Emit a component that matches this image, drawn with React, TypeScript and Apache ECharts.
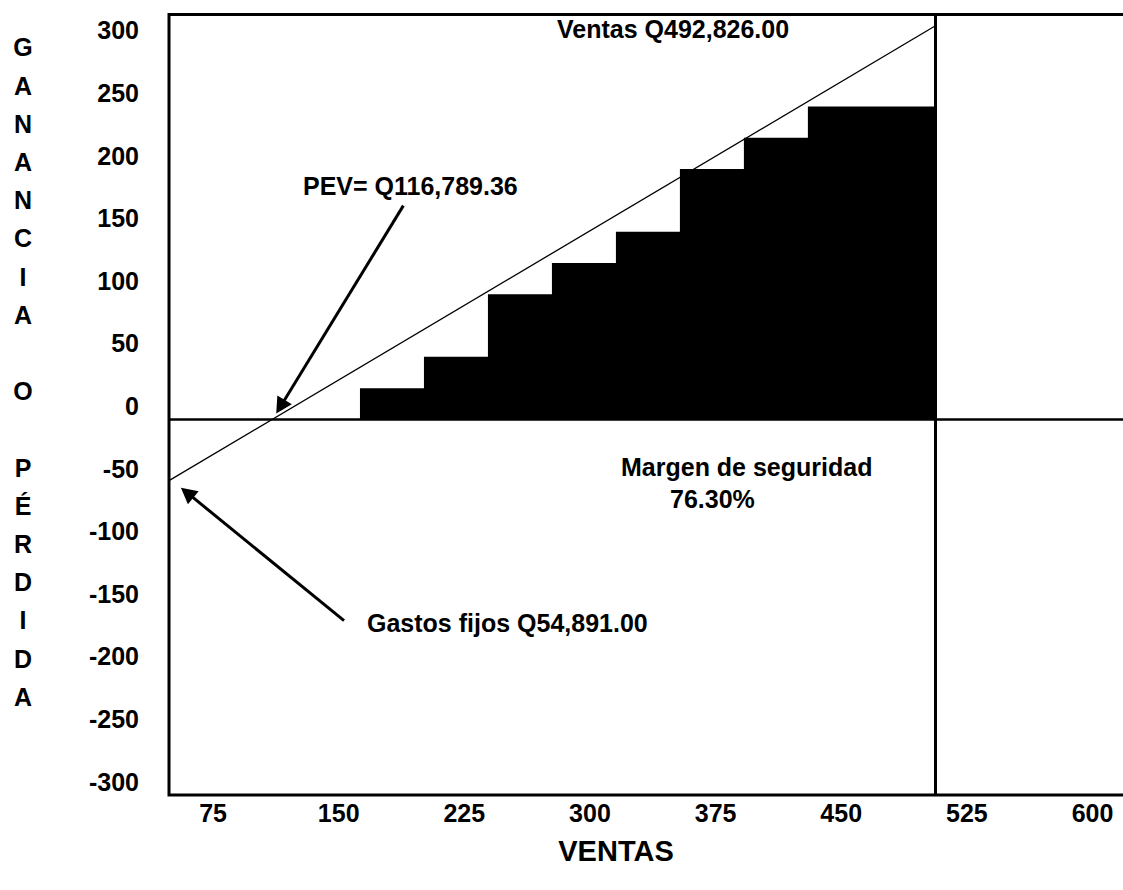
import React, { useEffect, useRef } from "react";
import * as echarts from "echarts";

// ---- data ----
const xTickLabels = [75, 150, 225, 300, 375, 450, 525, 600];
const stepStarts = [162.7, 200.9, 239.1, 277.3, 315.5, 353.7, 391.9, 430.1];
const stepEnd = 506;
const stepValues = [25, 50, 100, 125, 150, 200, 225, 250];
const salesLineX = [48.7, 506];
const salesLineY = [-48.9, 314.3];
const salesMarkX = 506;
const pevArrow = [[188.6, 170.8], [115.2, 10.2]];
const fixedArrow = [[153.2, -160.7], [59.5, -58.5]];
const yTitle = ["G", "A", "N", "A", "N", "C", "I", "A", "", "O", "", "P", "É", "R", "D", "I", "D", "A"];

const FONT = '"Liberation Sans", Arial, sans-serif';

export default function App() {
  const ref = useRef<HTMLDivElement>(null);
  useEffect(() => {
    if (!ref.current) return;
    const chart = echarts.init(ref.current, null, { renderer: "svg" });
    const stepData = stepStarts.map((x, i) => [x, stepValues[i]]);
    stepData.push([stepEnd, stepValues[stepValues.length - 1]]);
    const lineData = salesLineX.map((x, i) => [x, salesLineY[i]]);
    const txt = (text: string, x: number, y: number, size = 25, align = "left") => ({
      type: "text",
      x,
      y,
      silent: true,
      style: {
        text,
        fill: "#000",
        fontSize: size,
        fontWeight: "bold",
        fontFamily: FONT,
        align,
        verticalAlign: "middle",
      },
    });
    chart.setOption({
      animation: false,
      backgroundColor: "#fff",
      grid: {
        left: 169,
        top: 14.5,
        right: 12,
        bottom: 95,
        show: true,
        borderColor: "#000",
        borderWidth: 3,
        backgroundColor: "transparent",
      },
      xAxis: {
        type: "value",
        min: 48.7,
        max: 621.2,
        axisLine: { show: false },
        axisTick: { show: false },
        splitLine: { show: false },
        axisLabel: {
          customValues: xTickLabels,
          margin: 5,
          color: "#000",
          fontSize: 25,
          fontWeight: "bold",
          fontFamily: FONT,
        },
      },
      yAxis: {
        type: "value",
        min: -300,
        max: 323.5,
        interval: 50,
        axisLine: { show: false },
        axisTick: { show: false },
        splitLine: { show: false },
        axisLabel: {
          showMaxLabel: false,
          margin: 30,
          color: "#000",
          fontSize: 25,
          fontWeight: "bold",
          fontFamily: FONT,
          verticalAlign: "bottom",
          lineHeight: 27,
        },
      },
      series: [
        {
          type: "line",
          step: "end",
          data: stepData,
          symbol: "none",
          lineStyle: { width: 0, color: "#000" },
          areaStyle: { color: "#000", opacity: 1 },
          z: 2,
          markLine: {
            silent: true,
            animation: false,
            symbol: ["none", "triangle"],
            symbolSize: [17, 16],
            label: { show: false },
            lineStyle: { color: "#000", width: 3, type: "solid" },
            data: [
              [{ coord: pevArrow[0] }, { coord: pevArrow[1] }],
              [{ coord: fixedArrow[0] }, { coord: fixedArrow[1] }],
            ],
          },
        },
        {
          type: "line",
          data: lineData,
          symbol: "none",
          lineStyle: { width: 1.3, color: "#000" },
          z: 3,
          markLine: {
            silent: true,
            animation: false,
            symbol: ["none", "none"],
            label: { show: false },
            lineStyle: { color: "#000", type: "solid" },
            data: [
              { yAxis: 0, lineStyle: { width: 2.5, color: "#000", type: "solid" } },
              { xAxis: salesMarkX, lineStyle: { width: 3, color: "#000", type: "solid" } },
            ],
          },
        },
      ],
      graphic: [
        {
          type: "text",
          x: 23,
          y: 372,
          silent: true,
          style: {
            text: yTitle.join("\n"),
            fill: "#000",
            fontSize: 25,
            fontWeight: "bold",
            fontFamily: FONT,
            align: "center",
            verticalAlign: "middle",
            lineHeight: 38.2,
          },
        },
        txt("VENTAS", 616, 851, 29, "center"),
        txt("Ventas Q492,826.00", 557, 28.5),
        txt("PEV= Q116,789.36", 303, 186),
        txt("Margen de seguridad", 621, 467),
        txt("76.30%", 670, 498.5),
        txt("Gastos fijos Q54,891.00", 367, 623),
      ],
    });
    return () => chart.dispose();
  }, []);
  return (
    <div style={{ position: "absolute", left: 0, top: 0, width: 1123, height: 890, overflow: "hidden" }}>
      <div ref={ref} style={{ width: 1140, height: 890 }} />
    </div>
  );
}
